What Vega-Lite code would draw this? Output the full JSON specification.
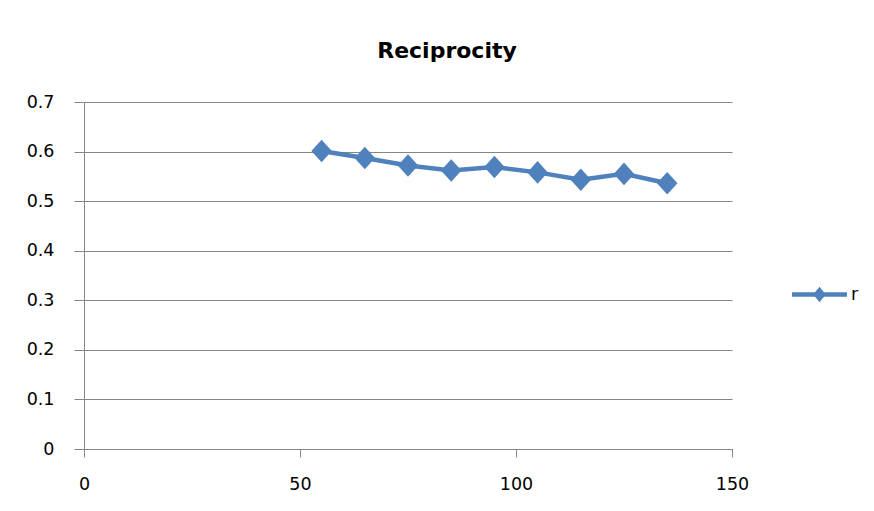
{
  "$schema": "https://vega.github.io/schema/vega-lite/v6.json",
  "autosize": {"type": "none"},
  "width": 648,
  "height": 347,
  "padding": {"left": 84, "top": 102, "right": 142, "bottom": 62},
  "background": "white",
  "title": {
    "text": "Reciprocity",
    "font": "DejaVu Sans",
    "fontWeight": "bold",
    "fontSize": 22,
    "color": "#000000",
    "anchor": "middle",
    "baseline": "alphabetic",
    "offset": 44,
    "dx": 39,
    "dy": 31
  },
  "config": {
    "view": {"stroke": null},
    "axis": {
      "labelFont": "DejaVu Sans",
      "labelFontSize": 17.5,
      "labelColor": "#000000",
      "domainColor": "#868686",
      "tickColor": "#868686",
      "gridColor": "#868686",
      "domainWidth": 1,
      "tickWidth": 1,
      "gridWidth": 1
    }
  },
  "data": {
    "values": [
      {"x": 55, "r": 0.601, "series": "r"},
      {"x": 65, "r": 0.587, "series": "r"},
      {"x": 75, "r": 0.572, "series": "r"},
      {"x": 85, "r": 0.562, "series": "r"},
      {"x": 95, "r": 0.569, "series": "r"},
      {"x": 105, "r": 0.558, "series": "r"},
      {"x": 115, "r": 0.543, "series": "r"},
      {"x": 125, "r": 0.555, "series": "r"},
      {"x": 135, "r": 0.536, "series": "r"}
    ]
  },
  "mark": {
    "type": "line",
    "strokeWidth": 4.5,
    "point": {"shape": "M0,-1.1L1,0L0,1.1L-1,0Z", "size": 420, "filled": true, "opacity": 1}
  },
  "encoding": {
    "x": {
      "field": "x",
      "type": "quantitative",
      "scale": {"domain": [0, 150], "nice": false, "zero": true},
      "axis": {
        "title": null,
        "values": [0, 50, 100, 150],
        "grid": false,
        "tickSize": 8,
        "labelPadding": 18,
        "labelFlush": false
      }
    },
    "y": {
      "field": "r",
      "type": "quantitative",
      "scale": {"domain": [0, 0.7], "nice": false},
      "axis": {
        "title": null,
        "values": [0, 0.1, 0.2, 0.3, 0.4, 0.5, 0.6, 0.7],
        "format": ".1~f",
        "grid": true,
        "tickSize": 10,
        "labelPadding": 20
      }
    },
    "color": {
      "field": "series",
      "type": "nominal",
      "scale": {"range": ["#4F81BD"]},
      "legend": {
        "title": null,
        "orient": "none",
        "legendX": 708,
        "legendY": 165,
        "padding": 0,
        "symbolType": "M-1,-0.08L1,-0.08L1,0.08L-1,0.08Z M0,-0.28L0.23,0L0,0.28L-0.23,0Z",
        "symbolSize": 3025,
        "symbolFillColor": "#4F81BD",
        "symbolStrokeColor": "#4F81BD",
        "symbolStrokeWidth": 0,
        "symbolOpacity": 1,
        "labelFont": "DejaVu Sans",
        "labelFontSize": 17.5,
        "labelColor": "#000000",
        "labelOffset": 4
      }
    }
  }
}
